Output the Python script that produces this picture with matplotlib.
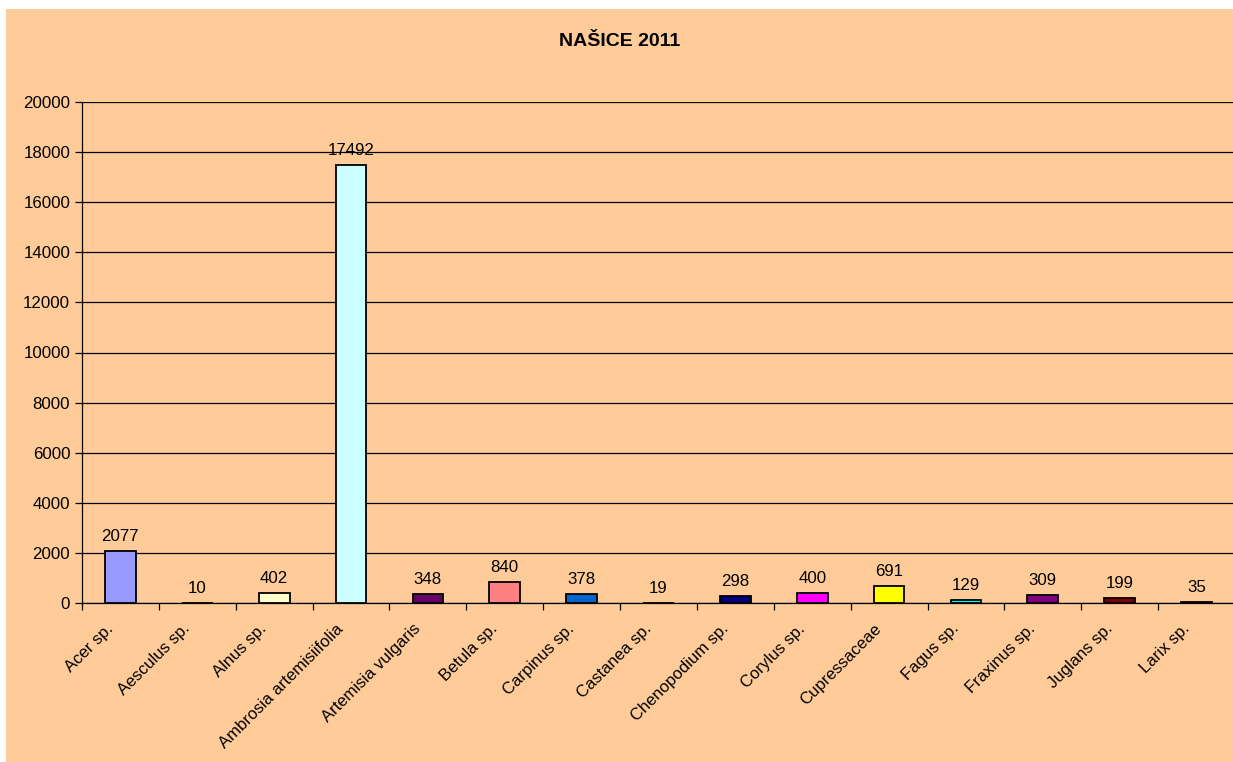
import numpy as np
import matplotlib.pyplot as plt
from matplotlib.patches import Rectangle
from matplotlib.transforms import ScaledTranslation

# -------------------------------------------------------------
# Data
# -------------------------------------------------------------
taxa = ["Acer sp.", "Aesculus sp.", "Alnus sp.", "Ambrosia artemisiifolia",
        "Artemisia vulgaris", "Betula sp.", "Carpinus sp.", "Castanea sp.",
        "Chenopodium sp.", "Corylus sp.", "Cupressaceae", "Fagus sp.",
        "Fraxinus sp.", "Juglans sp.", "Larix sp."]
counts = [2077, 10, 402, 17492, 348, 840, 378, 19, 298, 400, 691, 129, 309, 199, 35]
colors = ["#9999FF", "#993366", "#FFFFCC", "#CCFFFF", "#660066", "#FF8080",
          "#0066CC", "#CCCCFF", "#000080", "#FF00FF", "#FFFF00", "#00FFFF",
          "#800080", "#800000", "#008080"]
yticks = [0, 2000, 4000, 6000, 8000, 10000, 12000, 14000, 16000, 18000, 20000]

peach = "#FFCC99"
plt.rcParams['font.family'] = ['Liberation Sans', 'DejaVu Sans']
fs = 12.2

# -------------------------------------------------------------
# Plot
# -------------------------------------------------------------
fig = plt.figure(figsize=(12.33, 7.62), dpi=100)
fig.patch.set_facecolor("white")
fig.patches.append(Rectangle((6 / 1233, 0), 1, 1 - 9 / 762, transform=fig.transFigure,
                             facecolor=peach, edgecolor="none", zorder=-10))

ax = fig.add_axes([82 / 1233, 1 - 603 / 762, 1153 / 1233, 501 / 762])
ax.set_zorder(1)
ax.set_facecolor(peach)

x = np.arange(len(taxa))
ax.bar(x, counts, width=0.4, color=colors, edgecolor="black", linewidth=1.3, zorder=3)

for xi, v in zip(x, counts):
    ax.annotate(str(v), (xi, v), xytext=(0, 5), textcoords="offset points",
                ha="center", va="bottom", fontsize=fs, zorder=4)

ax.set_xlim(-0.5, len(taxa) - 0.5)
ax.set_ylim(0, 20000)
ax.set_yticks(yticks)
ax.yaxis.grid(True, color="black", linewidth=0.9)
ax.set_axisbelow(True)
ax.tick_params(axis="y", labelsize=fs, length=5, direction="out", width=0.9)

ax.set_xticks(x)
ax.set_xticklabels(taxa, rotation=45, ha="right", rotation_mode="anchor", fontsize=12)
ax.tick_params(axis="x", which="major", length=0, pad=13)
ax.set_xticks(np.arange(-0.5, len(taxa), 1), minor=True)
ax.tick_params(axis="x", which="minor", length=5, width=0.9)
shift = ScaledTranslation(-15 / 100, 0, fig.dpi_scale_trans)
for lab in ax.get_xticklabels():
    lab.set_transform(lab.get_transform() + shift)

for s in ["top", "right"]:
    ax.spines[s].set_visible(False)
for s in ["left", "bottom"]:
    ax.spines[s].set_linewidth(0.9)

fig.text(620 / 1233, 1 - 42 / 762, "NAŠICE 2011", ha="center", va="center",
         fontsize=14, fontweight="bold")

plt.savefig("out.png", dpi=100, facecolor=fig.get_facecolor())
